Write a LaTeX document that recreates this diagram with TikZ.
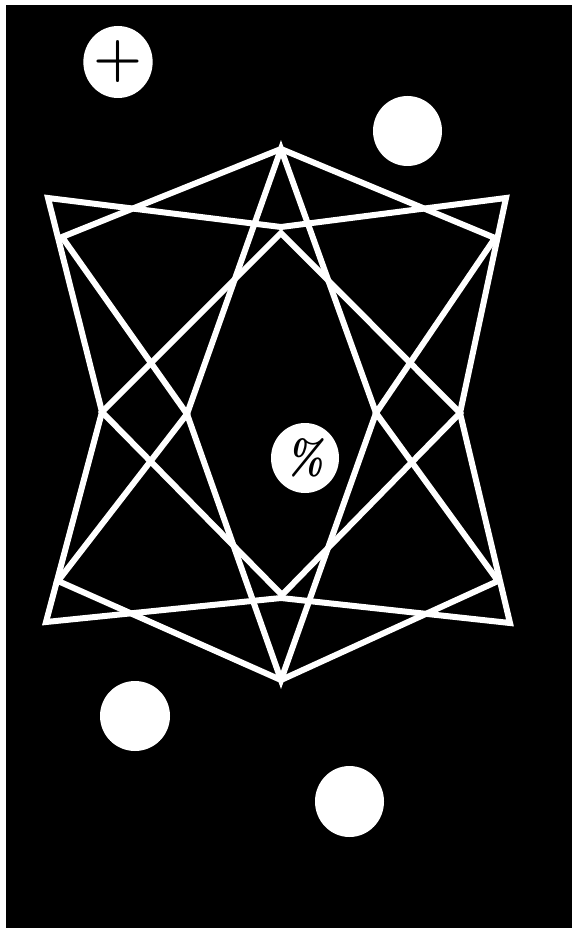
\documentclass[tikz,border=0pt]{standalone}
\usetikzlibrary{shapes.geometric}
\begin{document}
\begin{tikzpicture}[x=1pt,y=-1pt,
  wline/.style={draw=white,line width=6pt,line join=miter},
  disc/.style={ellipse,fill=white,draw=none,inner sep=0pt,text=black},
  bigsym/.style={font=\fontsize{56}{56}\selectfont\bfseries}]
\useasboundingbox (0,0) rectangle (572,928);
\fill[white] (0,0) rectangle (572,928);
\fill[black] (6,5) rectangle (572,928);
% coordinates
\coordinate (T) at (281,149);
\coordinate (B) at (281,680);
\coordinate (KL) at (187,414);
\coordinate (KR) at (376,413);
\coordinate (AL) at (62,237);
\coordinate (AR) at (495,238);
\coordinate (ABL) at (58,581);
\coordinate (ABR) at (498,581);
\coordinate (Ptl) at (48,198);
\coordinate (Ptr) at (506,198);
\coordinate (Pbl) at (46,622);
\coordinate (Pbr) at (510,623);
\coordinate (Mt) at (281,227);
\coordinate (Mb) at (281,598);
\coordinate (Lm) at (102,412);
\coordinate (Rm) at (460,413);
\coordinate (It) at (281,233);
\coordinate (Ib) at (282,595);
% star octagon and tall diamond
\draw[wline] (T) -- (AL) -- (KL) -- (ABL) -- (B) -- (ABR) -- (KR) -- (AR) -- cycle;
\draw[wline] (T) -- (KL) -- (B) -- (KR) -- cycle;
% outer octagon and wide diamond
\draw[wline] (Ptl) -- (Mt) -- (Ptr) -- (Rm) -- (Pbr) -- (Mb) -- (Pbl) -- (Lm) -- cycle;
\draw[wline] (It) -- (Lm) -- (Ib) -- (Rm) -- cycle;
% discs
\node[disc,minimum width=69pt,minimum height=72pt,bigsym] (plus) at (118,62) {+};
\node[disc,minimum width=69pt,minimum height=70pt] (d2) at (407.5,131) {};
\node[disc,minimum width=68pt,minimum height=70pt,font=\fontsize{48}{48}\selectfont\bfseries\itshape] (pct) at (305,458) {\scalebox{0.85}[1]{\%}};
\node[disc,minimum width=70pt,minimum height=70pt] (d4) at (135,716) {};
\node[disc,minimum width=69pt,minimum height=71pt] (d5) at (349.5,801.5) {};
\end{tikzpicture}
\end{document}
